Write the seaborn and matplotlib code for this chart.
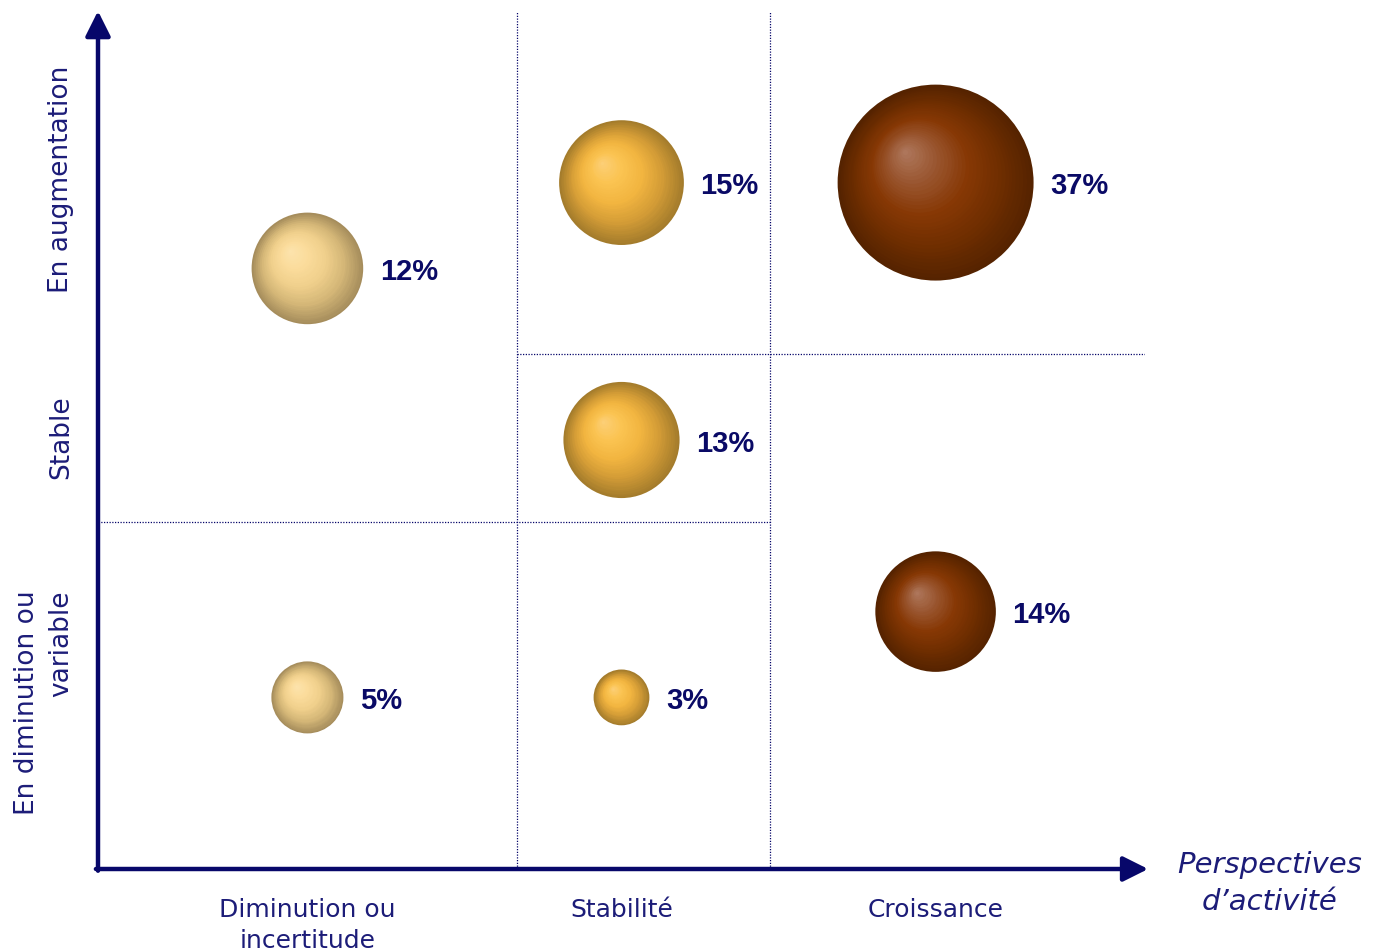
import numpy as np
import pandas as pd
import matplotlib
matplotlib.use("Agg")
import matplotlib.pyplot as plt
from matplotlib.colors import LinearSegmentedColormap
import seaborn as sns

# données du graphique
colonnes = ["Diminution ou\nincertitude", "Stabilité", "Croissance"]
colonnes_pos = [2, 5, 8]
lignes = ["En diminution ou\nvariable", "Stable", "En augmentation"]
lignes_pos = [1.95, 5.05, 8.05]

bulle_x = [2, 2, 5, 5, 5, 8, 8]
bulle_y = [7, 2, 8, 5, 2, 8, 3]
bulle_pct = [12, 5, 15, 13, 3, 37, 14]
bulle_teinte = ["beige", "beige", "or", "or", "or", "brun", "brun"]

titre_x = "Perspectives\nd\u2019activité"

# styles
NAVY = "#07076a"
TEXTE = "#1c1c78"
degrades = {
    "beige": ["#a68d5c", "#d4b677", "#f0d08c", "#fbdc9c", "#fce4ae"],
    "or": ["#a47c2c", "#d29b36", "#f2b540", "#fbc452", "#fcd07a"],
    "brun": ["#552300", "#6f2e00", "#873805", "#9a5731", "#b07a60"],
}
ECHELLE = 538  # points^2 par %

sns.set_theme(style="white")
plt.rcParams["font.family"] = ["DejaVu Sans"]

fig = plt.figure(figsize=(13.75, 9.53), dpi=100)
ax = fig.add_axes([98 / 1375, 83 / 953, 1047 / 1375, 858 / 953])
ax.set_xlim(0, 10)
ax.set_ylim(0, 10)
for s in ax.spines.values():
    s.set_visible(False)

df = pd.DataFrame({"x": bulle_x, "y": bulle_y, "pct": bulle_pct, "teinte": bulle_teinte})
df["taille"] = df["pct"] * ECHELLE

# lignes pointillées des quadrants
pointille = dict(color=NAVY, lw=0.9, ls=(0, (1, 1.2)), zorder=1)
ax.plot([4, 4], [0, 10], **pointille)
ax.plot([6.42, 6.42], [0, 10], **pointille)
ax.plot([0, 6.42], [4.04, 4.04], **pointille)
ax.plot([4, 10], [6.0, 6.0], **pointille)

# axes fléchés
fleche = dict(arrowstyle="-|>", lw=3.2, color=NAVY, mutation_scale=38, shrinkA=0, shrinkB=0)
ax.annotate("", xy=(0, 10), xytext=(0, -0.02), arrowprops=fleche, annotation_clip=False)
ax.annotate("", xy=(10.03, 0), xytext=(-0.02, 0), arrowprops=fleche, annotation_clip=False)

# bulles : couche extérieure avec seaborn
palette = {k: v[0] for k, v in degrades.items()}
sns.scatterplot(data=df, x="x", y="y", hue="teinte", palette=palette, size="taille",
                sizes=(df["taille"].min(), df["taille"].max()), legend=False,
                linewidth=0, ax=ax, zorder=3, clip_on=False)

# dégradé radial (couches concentriques décalées vers le haut à gauche)
fig.canvas.draw()
px_x = ax.transData.transform((1, 0))[0] - ax.transData.transform((0, 0))[0]
px_y = ax.transData.transform((0, 1))[1] - ax.transData.transform((0, 0))[1]
n = 36
for k in range(1, n):
    f = 1 - k / n
    for _, b in df.iterrows():
        cmap = LinearSegmentedColormap.from_list(b.teinte, degrades[b.teinte])
        r_px = np.sqrt(b.taille) / 2 / 0.72
        cx = b.x - (1 - f) * 0.32 * r_px / px_x
        cy = b.y + (1 - f) * 0.32 * r_px / px_y
        ax.scatter([cx], [cy], s=b.taille * f ** 2, color=cmap(1 - f), linewidth=0,
                   zorder=3 + k * 0.01, clip_on=False)

# étiquettes des pourcentages
for _, b in df.iterrows():
    r_pt = np.sqrt(b.taille) / 2
    ax.annotate(f"{b.pct}%", xy=(b.x, b.y), xytext=(r_pt + 12, -2), textcoords="offset points",
                ha="left", va="center", fontsize=21, fontweight="bold", color="#0a0a66",
                family=["Liberation Sans", "DejaVu Sans"], zorder=5)

# catégories
ax.set_xticks(colonnes_pos)
ax.set_xticklabels(colonnes, fontsize=18, color=TEXTE, linespacing=1.4)
ax.set_yticks(lignes_pos)
ax.set_yticklabels(lignes, fontsize=19, color=TEXTE, rotation=90, va="center",
                   ha="right", linespacing=1.4)
ax.tick_params(axis="x", length=0, pad=20)
ax.tick_params(axis="y", length=0, pad=17)
ax.set_xlabel("")
ax.set_ylabel("")

ax.text(11.19, -0.16, titre_x, ha="center", va="center", fontsize=21, style="italic",
        color=TEXTE, linespacing=1.4, clip_on=False)

fig.savefig("out.png", dpi=100)
